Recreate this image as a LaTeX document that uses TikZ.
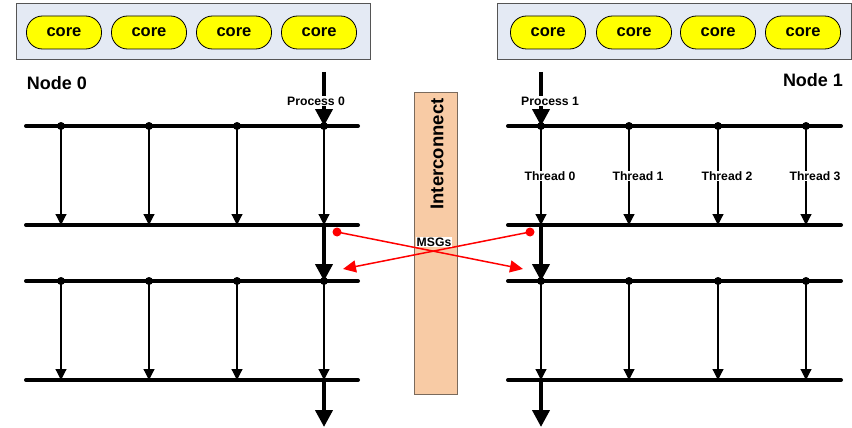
\documentclass[tikz,border=0pt]{standalone}
\usepackage{fontspec}
\setmainfont{Liberation Sans}
\usetikzlibrary{arrows.meta}
\definecolor{boxfill}{HTML}{E4EAF4}
\definecolor{boxline}{HTML}{555555}
\definecolor{corefill}{HTML}{FFFF00}
\definecolor{icfill}{HTML}{F8CBA5}
\definecolor{icline}{HTML}{7A6A5C}
\definecolor{msgred}{HTML}{FF0000}
\tikzset{
  cpubox/.style={draw=boxline, fill=boxfill, line width=1pt},
  corenode/.style={draw=black, fill=corefill, line width=0.8pt, rounded corners=16pt,
    minimum width=75pt, minimum height=33pt, inner sep=0pt,
    font=\fontsize{16.5}{17}\selectfont\bfseries},
  bar/.style={line width=4pt, line cap=round},
  dotmark/.style={circle, fill=black, inner sep=0pt, minimum size=8pt},
  reddot/.style={circle, fill=msgred, inner sep=0pt, minimum size=9pt},
  thinarrow/.style={line width=1.2pt, -{Triangle[width=11pt,length=11pt]}},
  thickarrow/.style={line width=4pt, -{Triangle[width=17pt,length=17pt]}},
  msg/.style={draw=msgred, line width=1.5pt, -{Triangle[width=12pt,length=13pt]}},
  smalllabel/.style={fill=white, inner sep=1pt, font=\fontsize{12.2}{13}\selectfont\bfseries},
  nodelabel/.style={font=\fontsize{18}{20}\selectfont\bfseries}
}
\begin{document}
\begin{tikzpicture}[x=1pt, y=-1pt]
\useasboundingbox (0,0) rectangle (852,428);

% ---- processor packages with their cores ----
\draw[cpubox] (16,4) rectangle (370,60);
\draw[cpubox] (497,4) rectangle (851,60);
\foreach \i/\x in {1/64,2/149,3/234,4/319}
  \node[corenode] (cl\i) at (\x,32.5) {core};
\foreach \i/\x in {1/548,2/634,3/718,4/803}
  \node[corenode] (cr\i) at (\x,32.5) {core};

\node[nodelabel] (n0) at (57,83) {Node 0};
\node[nodelabel] (n1) at (813,80) {Node 1};

% ---- interconnect ----
\node[draw=icline, fill=icfill, line width=1pt, minimum width=43pt, minimum height=301pt, inner sep=0pt]
  (ic) at (435.5,243.5) {};
\node[rotate=90, font=\fontsize{18.5}{20}\selectfont\bfseries] (ictext) at (437,154) {Interconnect};

% ---- fork/join bars ----
\foreach \side/\xa/\xb in {L/26/358,R/508/841}{
  \foreach \k/\y in {1/126,2/225,3/281,4/380}{
    \coordinate (\side b\k w) at (\xa,\y);
    \coordinate (\side b\k e) at (\xb,\y);
    \draw[bar] (\side b\k w) -- (\side b\k e);
  }
}

% thread columns
\foreach \j/\x in {1/61,2/149,3/237,4/324}{
  \node[dotmark] (Lt\j a) at (\x,126) {};
  \coordinate (Lt\j b) at (\x,225);
  \node[dotmark] (Lt\j c) at (\x,281) {};
  \coordinate (Lt\j d) at (\x,380);
  \draw[thinarrow] (Lt\j a.center) -- (Lt\j b);
  \draw[thinarrow] (Lt\j c.center) -- (Lt\j d);
}
\foreach \j/\x in {1/541,2/629,3/718,4/806}{
  \node[dotmark] (Rt\j a) at (\x,126) {};
  \coordinate (Rt\j b) at (\x,225);
  \node[dotmark] (Rt\j c) at (\x,281) {};
  \coordinate (Rt\j d) at (\x,380);
  \draw[thinarrow] (Rt\j a.center) -- (Rt\j b);
  \draw[thinarrow] (Rt\j c.center) -- (Rt\j d);
}

% thread labels on node 1
\foreach \j/\x in {1/550,2/638,3/727,4/815}{
  \pgfmathtruncatemacro\t{\j-1}
  \node[smalllabel] (th\j) at (\x,176) {Thread \t};
}

% ---- master process flow ----
\coordinate (p0top) at (324,72);
\coordinate (p1top) at (541,72);
\coordinate (p0end) at (324,427);
\coordinate (p1end) at (541,427);
\draw[thickarrow] (p0top) -- (Lt4a.center);
\draw[thickarrow] (Lt4b) -- (Lt4c.center);
\draw[thickarrow] (Lt4d) -- (p0end);
\draw[thickarrow] (p1top) -- (Rt1a.center);
\draw[thickarrow] (Rt1b) -- (Rt1c.center);
\draw[thickarrow] (Rt1d) -- (p1end);
\node[smalllabel] (proc0) at (316,101) {Process 0};
\node[smalllabel] (proc1) at (550,101) {Process 1};

% ---- messages across the interconnect ----
\node[reddot] (m0s) at (337,232) {};
\node[reddot] (m1s) at (530,232) {};
\coordinate (m0t) at (523,269);
\coordinate (m1t) at (343,269);
\draw[msg] (m0s.center) -- (m0t);
\draw[msg] (m1s.center) -- (m1t);
\node[smalllabel] (msgs) at (434,242) {MSGs};
\end{tikzpicture}
\end{document}
